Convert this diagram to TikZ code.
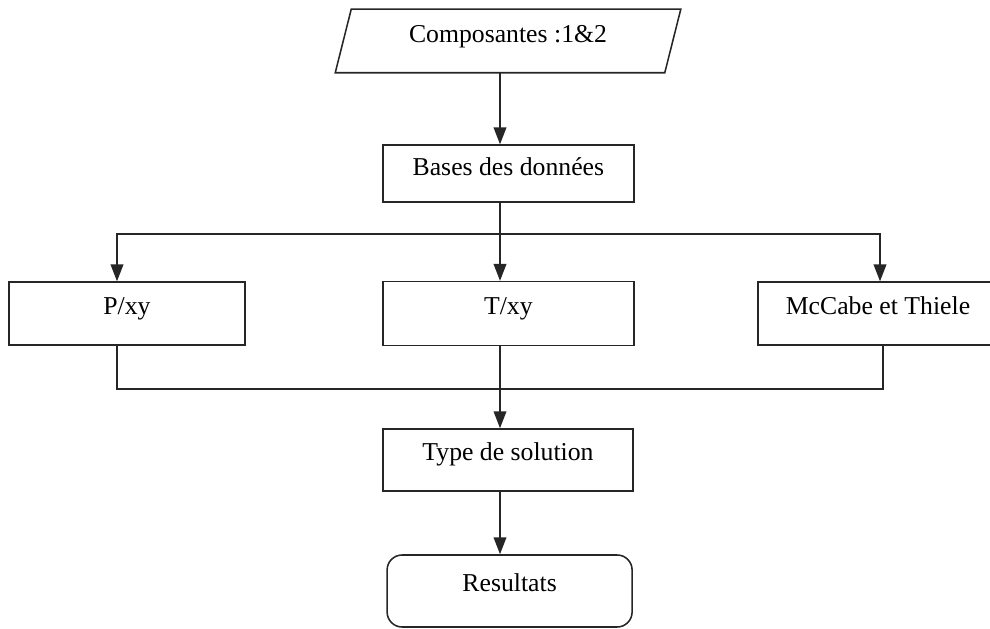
\documentclass[tikz,border=0pt]{standalone}
\usepackage{fontspec}
\setmainfont{Liberation Serif}
\usepackage{tikz}
\usetikzlibrary{arrows.meta,calc,positioning,shapes.geometric}

\begin{document}
\begin{tikzpicture}[
    line width=1.1pt,
    draw=black!85,
    txt/.style={font=\fontsize{18.3}{22}\selectfont, text height=0.7em, text depth=0.58em, inner sep=0},
    box/.style={txt, rectangle, draw=black!85},
    term/.style={box, rounded corners=0.375cm},
    arr/.style={-{Triangle[length=12pt,width=9pt]}}]
\useasboundingbox (0,0) rectangle (24.75,15.7);

\node[txt, text depth=0.48em, minimum width=8.2cm, minimum height=1.55cm] (comp) at (12.7,14.675) {Composantes :1\&2};
\node[box, text depth=0.48em, minimum width=6.275cm, minimum height=1.425cm] (bases) at (12.71,11.36) {Bases des données};
\node[box, minimum width=5.9cm, minimum height=1.575cm] (pxy) at (3.175,7.86) {P/xy};
\node[box, minimum width=6.275cm, minimum height=1.6cm] (txy) at (12.71,7.86) {T/xy};
\node[box, minimum width=6.0cm, minimum height=1.575cm] (mccabe) at (21.95,7.86) {McCabe et Thiele};
\node[box, minimum width=6.25cm, minimum height=1.55cm] (type) at (12.7,4.2) {Type de solution};
\node[term, minimum width=6.125cm, minimum height=1.8cm] (res) at (12.74,0.925) {Resultats};

% parallelogram of the input
\draw[black!85] ([xshift=0.2cm]comp.north west) -- ([xshift=0.2cm]comp.north east)
    -- ([xshift=-0.2cm]comp.south east) -- ([xshift=-0.2cm]comp.south west) -- cycle;

% lines of the branches
\coordinate (spine) at (12.5,0);
\coordinate (lft) at (2.925,0);
\coordinate (rgt) at (22.0,0);
\coordinate (rgtb) at (22.075,0);
\coordinate (split) at (12.5,9.85);
\coordinate (join) at (12.5,5.975);

\draw[arr] (comp.south -| spine) -- (bases.north -| spine);
\draw[arr] (bases.south -| spine) -- (txy.north -| spine);
\draw[arr] (split) -| (pxy.north -| lft);
\draw[arr] (split) -| (mccabe.north -| rgt);
\draw (pxy.south -| lft) |- (join);
\draw (mccabe.south -| rgtb) |- (join);
\draw[arr] (txy.south -| spine) -- (type.north -| spine);
\draw[arr] (type.south -| spine) -- (res.north -| spine);

\end{tikzpicture}
\end{document}
